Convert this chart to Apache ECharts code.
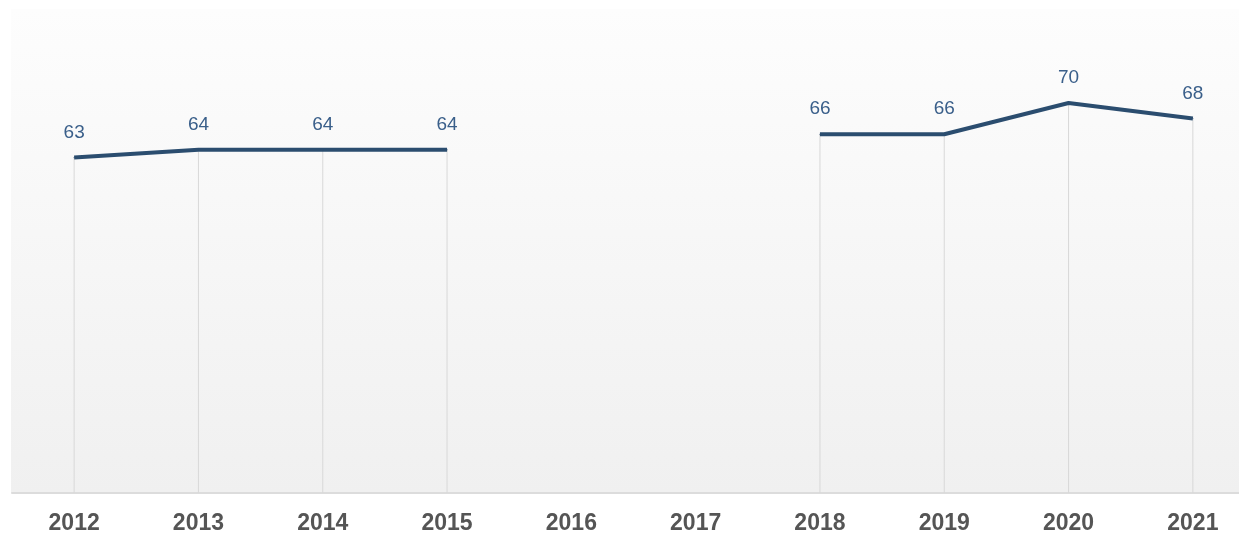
<!DOCTYPE html>
<html>
<head>
<meta charset="utf-8">
<script src="https://cdn.jsdelivr.net/npm/echarts@6/dist/echarts.min.js"></script>
<style>
  html, body { margin: 0; padding: 0; background: #fff; overflow: hidden; }
  #main { width: 1255px; height: 537px; }
</style>
</head>
<body>
<div id="main"></div>
<script>
// 年份
const years = ['2012', '2013', '2014', '2015', '2016', '2017', '2018', '2019', '2020', '2021'];
// 数值（2016、2017 无数据）
const values = [63, 64, 64, 64, null, null, 66, 66, 70, 68];

const chart = echarts.init(document.getElementById('main'));

const option = {
  backgroundColor: '#fff',
  animation: false,
  // 背景渐变
  graphic: [{
    type: 'rect',
    left: 11,
    top: 9,
    z: -10,
    shape: { width: 1239 - 11, height: 493 - 9 },
    style: {
      fill: new echarts.graphic.LinearGradient(0, 0, 0, 1, [
        { offset: 0, color: '#fdfdfd' },
        { offset: 1, color: '#f0f0f0' }
      ])
    }
  }],
  grid: { left: 12, right: 0, top: 25, bottom: 44 },
  xAxis: {
    type: 'category',
    data: years,
    boundaryGap: true,
    axisLine: { lineStyle: { color: '#dcdcdc', width: 2 } },
    axisTick: { show: false },
    axisLabel: {
      margin: 19,
      color: '#555',
      fontSize: 23,
      fontWeight: 'bold',
      fontFamily: 'Liberation Sans, Arial, sans-serif'
    }
  },
  yAxis: {
    type: 'value',
    min: 20,
    max: 80,
    show: false,
    splitLine: { show: false }
  },
  series: [
    {
      // 竖线
      type: 'bar',
      data: values,
      barWidth: 1,
      itemStyle: { color: '#d8d8d8' },
      silent: true
    },
    {
      type: 'line',
      data: values,
      connectNulls: false,
      symbol: 'circle',
      symbolSize: 1,
      itemStyle: { color: '#2b4d6f' },
      lineStyle: { color: '#2b4d6f', width: 4 },
      label: {
        show: true,
        position: 'top',
        distance: 15,
        color: '#3a5f8a',
        fontSize: 19,
        fontFamily: 'Liberation Sans, Arial, sans-serif'
      },
      z: 5
    }
  ]
};

chart.setOption(option);
</script>
</body>
</html>
